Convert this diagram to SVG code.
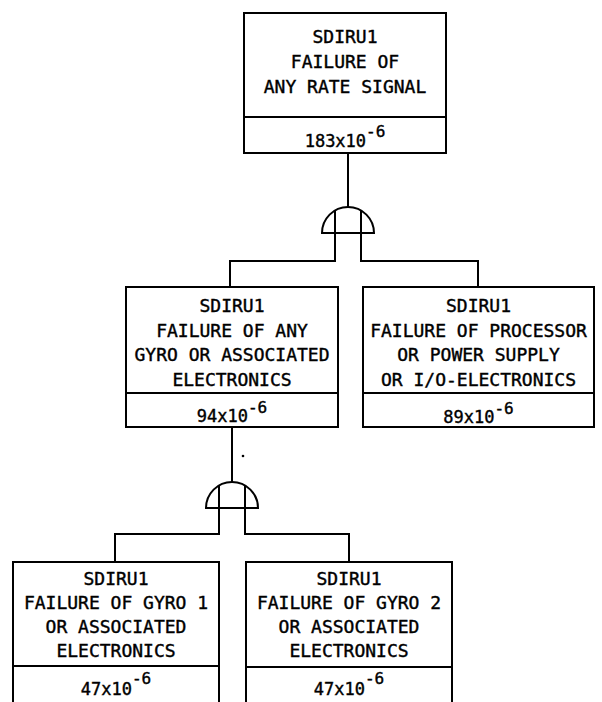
<svg xmlns="http://www.w3.org/2000/svg" width="602" height="702" viewBox="0 0 602 702">
<style>
.box{fill:none;stroke:#000;stroke-width:2}
.ln{fill:none;stroke:#000;stroke-width:2}
.t{font-family:"DejaVu Sans Mono","Liberation Mono",monospace;font-size:18px;fill:#000;stroke:#000;stroke-width:0.4;text-anchor:middle}
.v{font-family:"DejaVu Sans Mono","Liberation Mono",monospace;font-size:17px;fill:#000;stroke:#000;stroke-width:0.4;text-anchor:middle}
.sup{font-size:16px}
</style>
<rect width="602" height="702" fill="#fff"/>
<g id="connectors">
<path class="ln" d="M348,153 V208"/>
<path class="ln" d="M335,211 V261 H230 V287"/>
<path class="ln" d="M361,211 V261 H478 V287"/>
<path class="ln" d="M232,427 V482"/>
<path class="ln" d="M219,485 V534 H115 V562"/>
<path class="ln" d="M245,485 V534 H349 V562"/>
<circle cx="243" cy="456" r="1.3" fill="#000"/>
</g>
<g id="gate1">
<path class="ln" d="M322,233 A26,26 0 0 1 374,233 Z"/>
</g>
<g id="gate2">
<path class="ln" d="M206,508 A26,26 0 0 1 258,508 Z"/>
</g>
<g id="top">
<rect class="box" x="244" y="13" width="202" height="140"/>
<line class="ln" x1="244" y1="117" x2="446" y2="117"/>
<text class="t" x="345" y="43">SDIRU1</text>
<text class="t" x="345" y="68">FAILURE OF</text>
<text class="t" x="345" y="93">ANY RATE SIGNAL</text>
<text class="v" x="345" y="147">183x10<tspan class="sup" dy="-10">-6</tspan></text>
</g>
<g id="gyros">
<rect class="box" x="126" y="287" width="212" height="140"/>
<line class="ln" x1="126" y1="393" x2="338" y2="393"/>
<text class="t" x="232" y="312">SDIRU1</text>
<text class="t" x="232" y="336.5">FAILURE OF ANY</text>
<text class="t" x="232" y="361">GYRO OR ASSOCIATED</text>
<text class="t" x="232" y="385.5">ELECTRONICS</text>
<text class="v" x="232" y="422">94x10<tspan class="sup" dy="-9">-6</tspan></text>
</g>
<g id="processor">
<rect class="box" x="363" y="287" width="231" height="140"/>
<line class="ln" x1="363" y1="393" x2="594" y2="393"/>
<text class="t" x="478.5" y="312">SDIRU1</text>
<text class="t" x="478.5" y="336.5">FAILURE OF PROCESSOR</text>
<text class="t" x="478.5" y="361">OR POWER SUPPLY</text>
<text class="t" x="478.5" y="385.5">OR I/O-ELECTRONICS</text>
<text class="v" x="478.5" y="423">89x10<tspan class="sup" dy="-9">-6</tspan></text>
</g>
<g id="gyro1">
<path class="box" d="M13,710 V562 H219 V710"/>
<line class="ln" x1="13" y1="666" x2="219" y2="666"/>
<text class="t" x="116" y="585">SDIRU1</text>
<text class="t" x="116" y="609">FAILURE OF GYRO 1</text>
<text class="t" x="116" y="633">OR ASSOCIATED</text>
<text class="t" x="116" y="657">ELECTRONICS</text>
<text class="v" x="116" y="695">47x10<tspan class="sup" dy="-11">-6</tspan></text>
</g>
<g id="gyro2">
<path class="box" d="M246,710 V562 H452 V710"/>
<line class="ln" x1="246" y1="667" x2="452" y2="667"/>
<text class="t" x="349" y="585">SDIRU1</text>
<text class="t" x="349" y="609">FAILURE OF GYRO 2</text>
<text class="t" x="349" y="633">OR ASSOCIATED</text>
<text class="t" x="349" y="657">ELECTRONICS</text>
<text class="v" x="349" y="695">47x10<tspan class="sup" dy="-11">-6</tspan></text>
</g>
</svg>
